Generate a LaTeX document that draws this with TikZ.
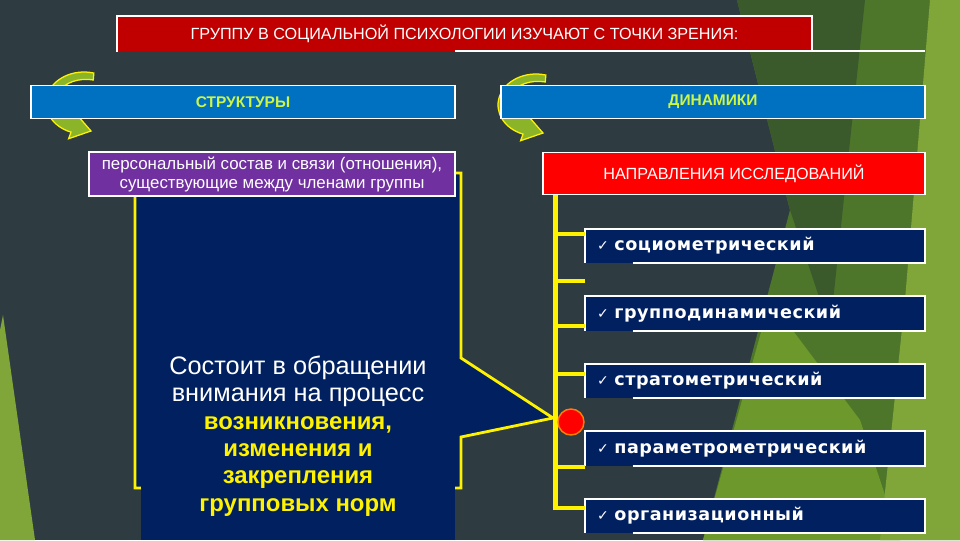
\documentclass[tikz,border=0pt]{standalone}
\usepackage{fontspec}
\setmainfont{Liberation Sans}
\newfontfamily\itemfont{DejaVu Sans}[LetterSpace=3]
\newfontfamily\symfont{DejaVu Sans}
\usetikzlibrary{positioning}
\definecolor{slate}{RGB}{46,60,66}
\definecolor{navy}{RGB}{0,32,96}
\definecolor{titlered}{RGB}{192,0,0}
\definecolor{boxblue}{RGB}{0,112,192}
\definecolor{boxpurple}{RGB}{112,48,160}
\definecolor{limetext}{RGB}{205,245,70}
\definecolor{arrowgreen}{RGB}{140,180,40}
\definecolor{gdark}{RGB}{58,90,44}
\definecolor{gmid}{RGB}{78,118,42}
\definecolor{gbright}{RGB}{108,152,44}
\definecolor{glight}{RGB}{128,166,58}
\newcommand{\px}{0.025cm}

\tikzset{
  panel/.style={fill=#1, draw=white, line width=1.2pt, inner sep=0pt, text=white, align=center},
  item/.style={fill=navy, inner xsep=12*\px, inner ysep=0pt, minimum height=34*\px,
    text width=316*\px, align=left, text=white},
  edge/.style={draw=white, line width=1.2pt},
  trunk/.style={draw=yellow, line width=3.5pt},
  bracket/.style={draw=yellow, line width=2pt, line join=miter},
  pics/swirl/.style={code={
    \filldraw[fill=arrowgreen, draw=yellow, line width=0.9pt]
      (-75:38 and 31) arc[start angle=-75, end angle=-250, x radius=38, y radius=31]
      -- (-250:45 and 38) -- (7,28) -- (-250:22 and 12)
      arc[start angle=-250, end angle=-75, x radius=28, y radius=18] -- cycle;
  }}
}

\begin{document}
\begin{tikzpicture}[x=\px, y=-\px]
% background
\fill[slate] (0,0) rectangle (960,540);
\useasboundingbox (0,0) rectangle (960,540);
\fill[gmid] (737,0) -- (960,0) -- (960,540) -- (703,540) -- (790,210) -- cycle;
\fill[gdark] (737,0) -- (865,0) -- (830,330) -- (790,210) -- cycle;
\fill[gbright] (703,540) -- (770,300) -- (860,420) -- (900,540) -- cycle;
\fill[glight] (930,0) -- (960,0) -- (960,540) -- (880,540) -- (905,300) -- cycle;
\fill[glight] (3,315) -- (35,540) -- (0,540) -- (0,330) -- cycle;

% title
\node[panel=titlered, draw=none, minimum width=693*\px, minimum height=34*\px,
  font=\fontsize{11.5}{13}\selectfont] (title) at (464.5,34)
  {ГРУППУ В СОЦИАЛЬНОЙ ПСИХОЛОГИИ ИЗУЧАЮТ С ТОЧКИ ЗРЕНИЯ:};
\draw[edge] (title.south west) -- (title.north west) -- (title.north east) -- (title.south east);
\draw[edge] (455,51) -- (925,51);

% swirls
\pic at (84,103) {swirl};
\pic at (536,105) {swirl};

\node[panel=boxblue, minimum width=424*\px, minimum height=33*\px, text=limetext,
  font=\fontsize{11}{13}\selectfont\bfseries] (struct) at (243,102) {СТРУКТУРЫ};
\node[panel=boxblue, minimum width=424*\px, minimum height=33*\px, text=limetext,
  font=\fontsize{11}{13}\selectfont\bfseries] (dyn) at (713,102) {ДИНАМИКИ};

% left callout
\coordinate (tip) at (553,418);
\filldraw[bracket, fill=navy] (135,173) -- (461,173) -- (461,358) -- (tip)
  -- (461,437) -- (461,488) -- (135,488) -- cycle;
\fill[navy] (141,196) rectangle (455,540);
\node[align=center, text=white, font=\fontsize{18}{19.5}\selectfont] (norms) at (298,436)
  {Состоит в обращении\\внимания на процесс\\
   \textcolor{yellow}{\fontsize{17}{19.5}\selectfont\bfseries возникновения,}\\
   \textcolor{yellow}{\fontsize{17}{19.5}\selectfont\bfseries изменения и}\\
   \textcolor{yellow}{\fontsize{17}{19.5}\selectfont\bfseries закрепления}\\
   \textcolor{yellow}{\fontsize{17}{19.5}\selectfont\bfseries групповых норм}};
\node[panel=boxpurple, minimum width=366*\px, minimum height=44*\px,
  font=\fontsize{12}{13.5}\selectfont] (persons) at (272,174)
  {персональный состав и связи (отношения),\\существующие между членами группы};

% right column
\node[panel=red, minimum width=382*\px, minimum height=42*\px,
  font=\fontsize{11.5}{13}\selectfont] (dirs) at (734,173.5) {НАПРАВЛЕНИЯ ИССЛЕДОВАНИЙ};

\foreach \name [count=\i] in {социометрический, групподинамический, стратометрический,
    параметрометрический, организационный} {
  \node[item] (i\i) at (755,{246+67.5*(\i-1)})
    {{\symfont\fontsize{10}{12}\selectfont ✓}\hspace{4pt}{\itemfont\bfseries\fontsize{12.5}{14}\selectfont \name}};
  \draw[edge] ([xshift=48*\px]i\i.south west) -- (i\i.south east) -- (i\i.north east)
    -- (i\i.north west) -- (i\i.south west);
}

\draw[trunk] ([xshift=13*\px]dirs.south west) |- ([yshift=8*\px]i5.west);
\foreach \ty in {234,281,326,374,467}
  \draw[trunk] (556,\ty) -- (585,\ty);
\node[circle, fill=red, draw=orange, line width=1pt, minimum size=26*\px, inner sep=0pt]
  (dot) at (571,422) {};
\end{tikzpicture}
\end{document}
